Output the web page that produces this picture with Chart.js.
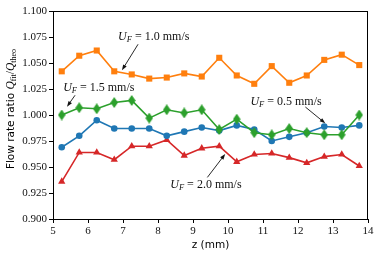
<!DOCTYPE html>
<html>
<head>
<meta charset="utf-8">
<script src="https://cdn.jsdelivr.net/npm/chart.js@4"></script>
<style>
  html, body { margin: 0; padding: 0; background: #fff; }
  #wrap { width: 380px; height: 258px; }
</style>
</head>
<body>
<div id="wrap"><canvas id="ratioChart" width="380" height="258"></canvas></div>
<script>
// positions along the channel (mm)
const zPos = [5.25, 5.75, 6.25, 6.75, 7.25, 7.75, 8.25, 8.75, 9.25, 9.75,
              10.25, 10.75, 11.25, 11.75, 12.25, 12.75, 13.25, 13.75];

// flow rate ratio Q_fit / Q_theo for each U_F
const ratio05 = [0.969, 0.980, 0.995, 0.987, 0.987, 0.987, 0.980, 0.984, 0.988, 0.985,
                 0.990, 0.986, 0.975, 0.979, 0.983, 0.989, 0.988, 0.990];
const ratio10 = [1.042, 1.057, 1.062, 1.042, 1.039, 1.035, 1.036, 1.040, 1.037, 1.055,
                 1.038, 1.030, 1.047, 1.031, 1.038, 1.053, 1.058, 1.048];
const ratio15 = [1.000, 1.007, 1.006, 1.012, 1.014, 0.997, 1.005, 1.002, 1.005, 0.986,
                 0.996, 0.983, 0.981, 0.987, 0.983, 0.981, 0.981, 1.000];
const ratio20 = [0.936, 0.964, 0.964, 0.957, 0.970, 0.970, 0.976, 0.961, 0.968, 0.970,
                 0.955, 0.962, 0.963, 0.959, 0.954, 0.960, 0.962, 0.951];

const xTicks = [5, 6, 7, 8, 9, 10, 11, 12, 13, 14];
const yTicks = [0.900, 0.925, 0.950, 0.975, 1.000, 1.025, 1.050, 1.075, 1.100];

// label text + arrow, all in data coords
const notes = [
  { speed: '1.0', tx: 6.86, ty: 1.075, ax: 7.43, ay: 1.068, bx: 6.97, by: 1.043 },
  { speed: '1.5', tx: 5.29, ty: 1.026, ax: 5.63, ay: 1.019, bx: 5.40, by: 1.008 },
  { speed: '0.5', tx: 10.64, ty: 1.0125, ax: 12.21, ay: 1.0077, bx: 12.78, by: 0.992 },
  { speed: '2.0', tx: 8.35, ty: 0.933, ax: 9.41, ay: 0.940, bx: 9.92, by: 0.9625 }
];

const SERIF = '"Liberation Serif", "DejaVu Serif", serif';
const SANS = '"DejaVu Sans", sans-serif';

function toPoints(vals) {
    return zPos.map((z, i) => ({ x: z, y: vals[i] }));
}

// thin diamond marker, like matplotlib 'd'
function thinDiamond(color) {
    const c = document.createElement('canvas');
    c.width = 8; c.height = 11;
    const g = c.getContext('2d');
    g.fillStyle = color;
    g.beginPath();
    g.moveTo(4, 0); g.lineTo(7.8, 5.5); g.lineTo(4, 11); g.lineTo(0.2, 5.5);
    g.closePath();
    g.fill();
    return c;
}

function drawRuns(ctx, runs, x, y) {
    // runs: [{text, font, dy}]
    let w = 0;
    runs.forEach(r => { ctx.font = r.font; w += ctx.measureText(r.text).width; });
    let cx = x;
    runs.forEach(r => {
        ctx.font = r.font;
        ctx.fillText(r.text, cx, y + (r.dy || 0));
        cx += ctx.measureText(r.text).width;
    });
    return w;
}

function arrow(ctx, x1, y1, x2, y2) {
    const ang = Math.atan2(y2 - y1, x2 - x1);
    const head = 6;
    ctx.beginPath();
    ctx.moveTo(x1, y1);
    ctx.lineTo(x2 - Math.cos(ang) * head * 0.8, y2 - Math.sin(ang) * head * 0.8);
    ctx.stroke();
    ctx.beginPath();
    ctx.moveTo(x2, y2);
    ctx.lineTo(x2 - head * Math.cos(ang - 0.35), y2 - head * Math.sin(ang - 0.35));
    ctx.lineTo(x2 - head * Math.cos(ang + 0.35), y2 - head * Math.sin(ang + 0.35));
    ctx.closePath();
    ctx.fill();
}

const decorPlugin = {
    id: 'decor',
    afterDatasetsDraw(chart) {
        const { ctx, chartArea: a, scales } = chart;
        ctx.save();
        // frame
        ctx.strokeStyle = '#000';
        ctx.lineWidth = 1;
        ctx.strokeRect(a.left + 0.5, a.top + 0.5, a.right - a.left - 1, a.bottom - a.top);

        // annotations
        ctx.fillStyle = '#111';
        ctx.strokeStyle = '#111';
        ctx.lineWidth = 0.9;
        ctx.textBaseline = 'middle';
        notes.forEach(n => {
            const tx = scales.x.getPixelForValue(n.tx);
            const ty = scales.y.getPixelForValue(n.ty);
            drawRuns(ctx, [
                { text: 'U', font: 'italic 12px ' + SERIF },
                { text: 'F', font: 'italic 8.5px ' + SERIF, dy: 3 },
                { text: ' = ' + n.speed + ' mm/s', font: '12px ' + SERIF }
            ], tx, ty);
            arrow(ctx,
                scales.x.getPixelForValue(n.ax), scales.y.getPixelForValue(n.ay),
                scales.x.getPixelForValue(n.bx), scales.y.getPixelForValue(n.by));
        });

        // x title
        ctx.fillStyle = '#000';
        ctx.textAlign = 'center';
        ctx.font = '10.5px ' + SANS;
        ctx.fillText('z (mm)', (a.left + a.right) / 2, 245);

        // y title with subscripts
        ctx.textAlign = 'left';
        ctx.translate(11, (a.top + a.bottom) / 2 - 6);
        ctx.rotate(-Math.PI / 2);
        const runs = [
            { text: 'Flow rate ratio ', font: '10.5px ' + SANS },
            { text: 'Q', font: 'italic 11.5px ' + SERIF },
            { text: 'fit', font: '8px ' + SERIF, dy: 3 },
            { text: '/', font: '11.5px ' + SERIF },
            { text: 'Q', font: 'italic 11.5px ' + SERIF },
            { text: 'theo', font: '8px ' + SERIF, dy: 3 }
        ];
        let total = 0;
        runs.forEach(r => { ctx.font = r.font; total += ctx.measureText(r.text).width; });
        drawRuns(ctx, runs, -total / 2, 0);
        ctx.restore();
    }
};

const series = [
    { label: 'U_F = 1.0 mm/s', vals: ratio10, color: '#ff7f0e', style: 'rect', r: 4.3 },
    { label: 'U_F = 1.5 mm/s', vals: ratio15, color: '#2ca02c', style: thinDiamond('#2ca02c'), r: 4 },
    { label: 'U_F = 0.5 mm/s', vals: ratio05, color: '#1f77b4', style: 'circle', r: 3.3 },
    { label: 'U_F = 2.0 mm/s', vals: ratio20, color: '#d62728', style: 'triangle', r: 4.2 }
];

new Chart(document.getElementById('ratioChart').getContext('2d'), {
    type: 'line',
    data: {
        datasets: series.map(s => ({
            label: s.label,
            data: toPoints(s.vals),
            borderColor: s.color,
            backgroundColor: s.color,
            borderWidth: 1.6,
            pointStyle: s.style,
            pointRadius: s.r,
            pointBorderWidth: 0,
            pointBackgroundColor: s.color,
            tension: 0,
            fill: false
        }))
    },
    options: {
        responsive: false,
        animation: false,
        events: [],
        layout: { padding: { top: 11, right: 12, left: 0, bottom: 0 } },
        plugins: { legend: { display: false }, tooltip: { enabled: false } },
        scales: {
            x: {
                type: 'linear',
                min: 5, max: 14,
                afterFit: scale => { scale.height = 39; },
                afterBuildTicks: scale => { scale.ticks = xTicks.map(v => ({ value: v })); },
                grid: { drawOnChartArea: false, drawTicks: true, tickLength: 4, color: '#000' },
                border: { display: true, color: '#000', width: 1 },
                ticks: {
                    color: '#111', padding: 2,
                    font: { family: SERIF, size: 11 },
                    callback: v => String(v)
                }
            },
            y: {
                type: 'linear',
                min: 0.9, max: 1.1,
                afterFit: scale => { scale.width = 53; },
                afterBuildTicks: scale => { scale.ticks = yTicks.map(v => ({ value: v })); },
                grid: { drawOnChartArea: false, drawTicks: true, tickLength: 4, color: '#000' },
                border: { display: true, color: '#000', width: 1 },
                ticks: {
                    color: '#111', padding: 2,
                    font: { family: SERIF, size: 11 },
                    callback: v => Number(v).toFixed(3)
                }
            }
        }
    },
    plugins: [decorPlugin]
});
</script>
</body>
</html>
